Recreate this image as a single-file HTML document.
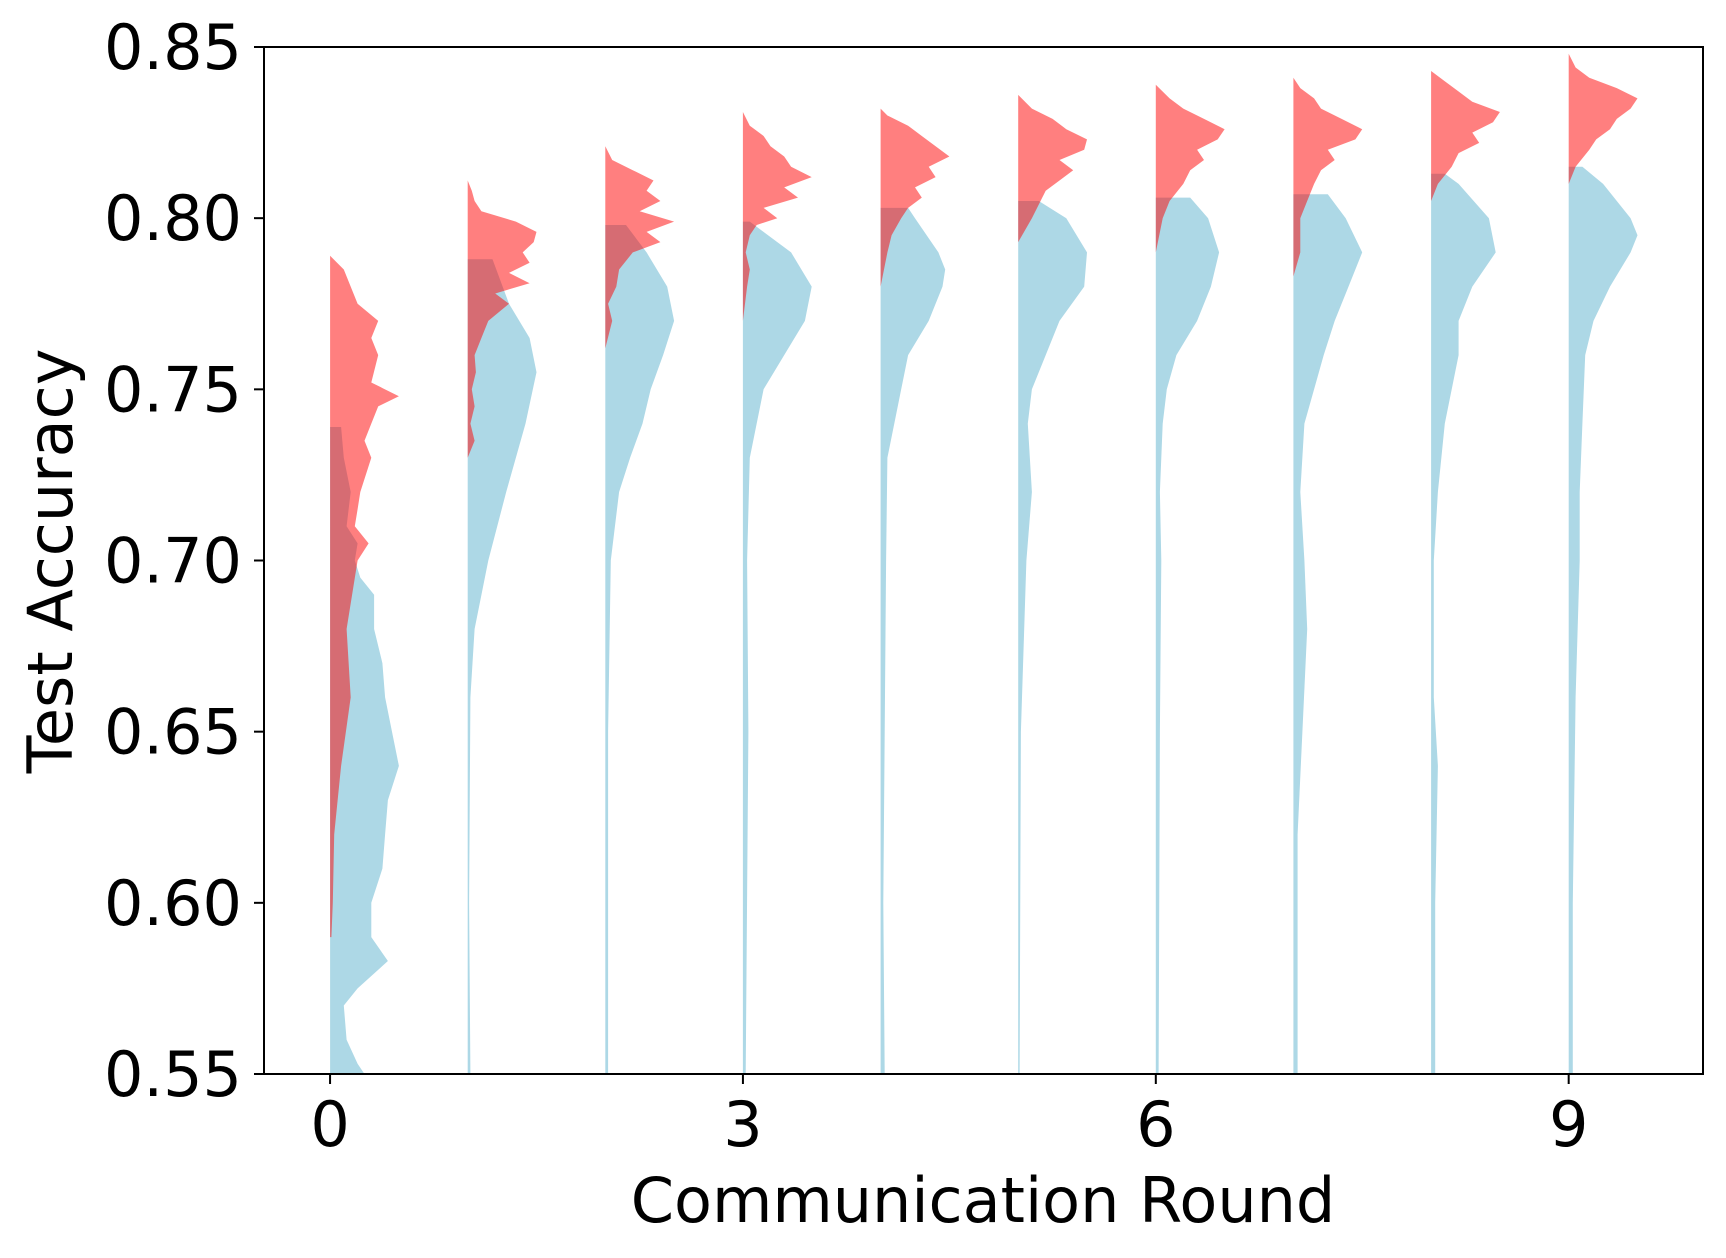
<!DOCTYPE html>
<html><head><meta charset="utf-8"><style>
body{margin:0;background:#fff}
svg{display:block;font-family:"DejaVu Sans","Liberation Sans",sans-serif}
</style></head><body>
<svg id="chart" width="1726" height="1258" viewBox="0 0 1726 1258" xmlns="http://www.w3.org/2000/svg">
<defs><clipPath id="plotclip"><rect x="264" y="47" width="1439" height="1027"/></clipPath></defs>
<g id="marks" clip-path="url(#plotclip)"></g>
<rect x="264" y="47" width="1439" height="1027" fill="none" stroke="#000" stroke-width="2"/>
<g id="ticks"></g>
<text x="983" y="1222" font-size="62" text-anchor="middle">Communication Round</text>
<text transform="translate(72,561) rotate(-90)" font-size="62" text-anchor="middle">Test Accuracy</text>
</svg>
<script>
const rounds=[0,1,2,3,4,5,6,7,8,9];
const xTicks=[0,3,6,9];
const yTicks=[0.55,0.60,0.65,0.70,0.75,0.80,0.85];
const yTickLabels=["0.55","0.60","0.65","0.70","0.75","0.80","0.85"];
const blueAcc=[
[0.55,0.553,0.56,0.57,0.575,0.583,0.59,0.60,0.61,0.62,0.63,0.64,0.65,0.66,0.67,0.68,0.69,0.695,0.70,0.705,0.71,0.72,0.73,0.739,0.739],
[0.55,0.60,0.66,0.68,0.70,0.72,0.74,0.755,0.765,0.775,0.788,0.788],
[0.55,0.65,0.70,0.72,0.73,0.74,0.75,0.76,0.77,0.78,0.79,0.798,0.798],
[0.55,0.65,0.70,0.73,0.75,0.76,0.77,0.78,0.79,0.799,0.799],
[0.55,0.60,0.70,0.73,0.75,0.76,0.77,0.78,0.785,0.79,0.80,0.803,0.803],
[0.55,0.65,0.70,0.72,0.74,0.75,0.76,0.77,0.78,0.79,0.80,0.805,0.805],
[0.55,0.65,0.70,0.72,0.74,0.75,0.76,0.77,0.78,0.79,0.80,0.806,0.806],
[0.55,0.62,0.68,0.70,0.72,0.74,0.75,0.76,0.77,0.78,0.79,0.80,0.807,0.807],
[0.55,0.60,0.64,0.66,0.70,0.72,0.74,0.76,0.77,0.78,0.79,0.80,0.81,0.813,0.813],
[0.55,0.60,0.66,0.70,0.72,0.74,0.76,0.77,0.78,0.79,0.795,0.80,0.81,0.815,0.815]];
const blueWidth=[
[0.25,0.2,0.12,0.1,0.2,0.42,0.3,0.3,0.38,0.4,0.42,0.5,0.45,0.4,0.38,0.32,0.32,0.22,0.18,0.2,0.12,0.15,0.1,0.08,0],
[0.02,0.01,0.02,0.05,0.15,0.28,0.42,0.5,0.45,0.3,0.18,0],
[0.02,0.02,0.04,0.1,0.18,0.27,0.33,0.42,0.5,0.45,0.3,0.15,0],
[0.02,0.04,0.03,0.05,0.15,0.3,0.45,0.5,0.35,0.05,0],
[0.03,0.02,0.04,0.05,0.15,0.2,0.35,0.45,0.47,0.42,0.25,0.2,0],
[0.01,0.02,0.06,0.1,0.07,0.1,0.2,0.3,0.48,0.5,0.35,0.15,0],
[0.02,0.03,0.04,0.03,0.05,0.08,0.15,0.3,0.4,0.46,0.38,0.25,0],
[0.03,0.03,0.1,0.08,0.05,0.08,0.15,0.22,0.3,0.4,0.5,0.38,0.25,0],
[0.03,0.03,0.05,0.02,0.02,0.05,0.1,0.2,0.2,0.3,0.47,0.42,0.2,0.1,0],
[0.03,0.03,0.05,0.08,0.08,0.1,0.12,0.18,0.3,0.45,0.5,0.45,0.25,0.1,0]];
const redAcc=[
[0.59,0.60,0.62,0.64,0.66,0.68,0.70,0.705,0.71,0.715,0.72,0.73,0.735,0.74,0.745,0.748,0.752,0.76,0.765,0.77,0.775,0.78,0.785,0.789],
[0.73,0.735,0.74,0.745,0.75,0.755,0.76,0.765,0.77,0.775,0.778,0.781,0.784,0.787,0.79,0.793,0.796,0.799,0.802,0.805,0.808,0.811],
[0.762,0.77,0.775,0.78,0.785,0.79,0.793,0.796,0.799,0.802,0.805,0.808,0.811,0.814,0.817,0.821],
[0.77,0.78,0.785,0.79,0.795,0.798,0.80,0.803,0.806,0.809,0.812,0.815,0.818,0.821,0.824,0.827,0.831],
[0.78,0.79,0.795,0.80,0.803,0.806,0.809,0.812,0.815,0.818,0.821,0.824,0.827,0.830,0.832],
[0.793,0.80,0.804,0.808,0.811,0.814,0.817,0.820,0.823,0.826,0.829,0.832,0.836],
[0.79,0.80,0.805,0.81,0.814,0.817,0.82,0.823,0.826,0.829,0.832,0.835,0.839],
[0.783,0.79,0.80,0.805,0.81,0.814,0.817,0.82,0.823,0.826,0.829,0.832,0.835,0.838,0.841],
[0.805,0.81,0.815,0.819,0.822,0.825,0.828,0.831,0.834,0.837,0.840,0.843],
[0.81,0.815,0.82,0.823,0.826,0.829,0.832,0.835,0.838,0.841,0.844,0.848]];
const redWidth=[
[0.01,0.02,0.03,0.08,0.15,0.12,0.2,0.28,0.18,0.2,0.22,0.3,0.25,0.3,0.35,0.5,0.3,0.35,0.3,0.35,0.2,0.15,0.1,0],
[0,0.05,0.02,0.05,0.03,0.06,0.05,0.1,0.15,0.3,0.2,0.45,0.3,0.45,0.4,0.48,0.5,0.35,0.1,0.05,0.03,0],
[0,0.05,0.02,0.08,0.1,0.2,0.4,0.3,0.5,0.25,0.4,0.3,0.35,0.2,0.05,0],
[0,0.03,0.05,0.02,0.05,0.1,0.25,0.15,0.4,0.3,0.5,0.35,0.3,0.2,0.15,0.05,0],
[0,0.05,0.08,0.15,0.2,0.3,0.25,0.4,0.35,0.5,0.4,0.3,0.2,0.05,0],
[0,0.1,0.15,0.2,0.3,0.4,0.3,0.48,0.5,0.35,0.25,0.1,0],
[0,0.05,0.1,0.2,0.25,0.35,0.3,0.45,0.5,0.35,0.2,0.1,0],
[0,0.05,0.05,0.1,0.15,0.2,0.3,0.25,0.45,0.5,0.35,0.2,0.15,0.05,0],
[0,0.05,0.15,0.2,0.35,0.3,0.45,0.5,0.3,0.2,0.1,0],
[0,0.05,0.15,0.2,0.3,0.35,0.45,0.5,0.35,0.15,0.05,0]];

const NS="http://www.w3.org/2000/svg";
const X0=264,X1=1703,Y0=47,Y1=1074;
const xMin=-0.48,xMax=9.976;
function xs(v){return X0+(v-xMin)/(xMax-xMin)*(X1-X0);}
function ys(v){return Y1-(v-0.55)/(0.85-0.55)*(Y1-Y0);}
const marks=document.getElementById('marks');
function violin(r,acc,wid,fill,name){
  let pts=[[xs(r),ys(acc[0])]];
  for(let i=0;i<acc.length;i++)pts.push([xs(r+wid[i]),ys(acc[i])]);
  pts.push([xs(r),ys(acc[acc.length-1])]);
  const p=document.createElementNS(NS,'polygon');
  p.setAttribute('points',pts.map(q=>q[0].toFixed(1)+','+q[1].toFixed(1)).join(' '));
  p.setAttribute('fill',fill);
  
  
  marks.appendChild(p);
}
rounds.forEach((r,i)=>violin(r,blueAcc[i],blueWidth[i],'#add8e6','blue-density-round-'+r));
rounds.forEach((r,i)=>violin(r,redAcc[i],redWidth[i],'rgba(255,0,0,0.5)','red-density-round-'+r));
const ticks=document.getElementById('ticks');
xTicks.forEach(v=>{
  const l=document.createElementNS(NS,'line');
  l.setAttribute('x1',xs(v));l.setAttribute('x2',xs(v));l.setAttribute('y1',Y1);l.setAttribute('y2',Y1+10);
  l.setAttribute('stroke','#000');l.setAttribute('stroke-width','2');
  
  
  ticks.appendChild(l);
  const t=document.createElementNS(NS,'text');
  t.setAttribute('x',xs(v));t.setAttribute('y',Y1+72);t.setAttribute('font-size','62');t.setAttribute('text-anchor','middle');
  t.textContent=String(v);
  
  
  ticks.appendChild(t);
});
yTicks.forEach((v,i)=>{
  const l=document.createElementNS(NS,'line');
  l.setAttribute('x1',X0-10);l.setAttribute('x2',X0);l.setAttribute('y1',ys(v));l.setAttribute('y2',ys(v));
  l.setAttribute('stroke','#000');l.setAttribute('stroke-width','2');
  
  
  ticks.appendChild(l);
  const t=document.createElementNS(NS,'text');
  t.setAttribute('x',X0-22);t.setAttribute('y',ys(v)+22);t.setAttribute('font-size','62');t.setAttribute('text-anchor','end');
  t.textContent=yTickLabels[i];
  
  
  ticks.appendChild(t);
});
</script>
</body></html>
